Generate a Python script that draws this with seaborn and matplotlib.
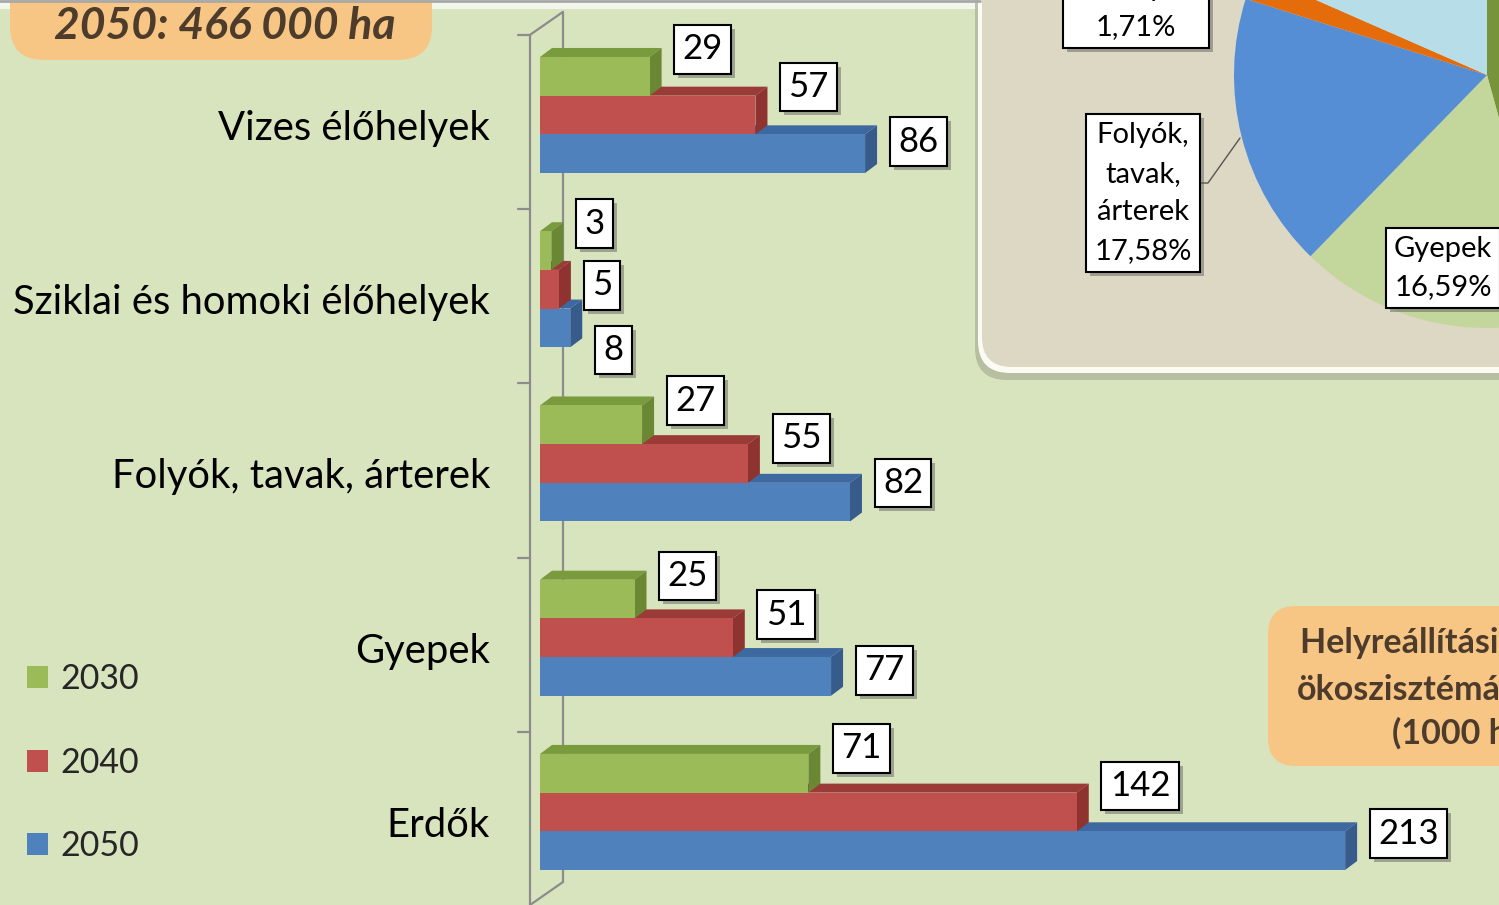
import numpy as np
import pandas as pd
import matplotlib
matplotlib.use("Agg")
import matplotlib.pyplot as plt
import seaborn as sns
from matplotlib.patches import Polygon, FancyBboxPatch, Rectangle
from matplotlib.transforms import IdentityTransform, ScaledTranslation

# data (1000 ha)
categories = ["Vizes élőhelyek", "Sziklai és homoki élőhelyek",
              "Folyók, tavak, árterek", "Gyepek", "Erdők"]
years = ["2030", "2040", "2050"]
v2030 = [29, 3, 27, 25, 71]
v2040 = [57, 5, 55, 51, 142]
v2050 = [86, 8, 82, 77, 213]

# pie (share of 2050 total)
pie_names = ["Erdők", "Gyepek", "Folyók, tavak, árterek",
             "Sziklai és homoki élőhelyek", "Vizes élőhelyek"]
pie_shares = [45.70, 16.59, 17.58, 1.71, 18.42]

title_text = "2050: 466 000 ha"
box_lines = ["Helyreállítási célú", "ökoszisztémák", "(1000 ha)"]

# colours
BG = "#D8E4BE"
ORANGE = "#F7C685"
BROWN = "#4D3B2C"
front = {"2030": "#9BBB59", "2040": "#C0504D", "2050": "#4F81BD"}
topc = {"2030": "#7A9A3E", "2040": "#9B3B38", "2050": "#3E68A0"}
sidec = {"2030": "#6A8834", "2040": "#8E3330", "2050": "#375C8C"}
pie_colors = ["#77933C", "#C3D69B", "#558ED5", "#E46C0A", "#B7DEE8"]

sns.set_theme(style="white")
plt.rcParams["font.family"] = ["Lato", "DejaVu Sans"]

W, H = 1499, 905
fig = plt.figure(figsize=(W / 100, H / 100), dpi=100, facecolor=BG)

# background layer in pixel coords (y down)
bg = fig.add_axes([0, 0, 1, 1], zorder=0)
bg.set_xlim(0, W)
bg.set_ylim(H, 0)
bg.axis("off")

# top edge of the green panel
bg.add_patch(Rectangle((0, 0), 980, 9, color="#F3F6EC", lw=0))
bg.plot([0, 980], [1, 1], color="#A8A8A8", lw=2)

# pie panel with shadow
bg.add_patch(FancyBboxPatch((975, -60), 700, 440, boxstyle="round,pad=0,rounding_size=32",
                            fc="#AEB69A", ec="none", alpha=0.8))
bg.add_patch(FancyBboxPatch((978, -60), 700, 433, boxstyle="round,pad=0,rounding_size=32",
                            fc="#FBFBF4", ec="none"))
bg.add_patch(FancyBboxPatch((982, -60), 700, 427, boxstyle="round,pad=0,rounding_size=30",
                            fc="#DDD8C3", ec="none"))

# title box
bg.add_patch(FancyBboxPatch((10, -60), 422, 120, boxstyle="round,pad=0,rounding_size=34",
                            fc=ORANGE, ec="none"))
bg.text(225, 39, title_text, ha="center", va="baseline", fontsize=32,
        fontweight="bold", fontstyle="italic", color=BROWN)

# bottom right box
bg.add_patch(FancyBboxPatch((1268, 606), 400, 160, boxstyle="round,pad=0,rounding_size=28",
                            fc=ORANGE, ec="none"))
for txt, x, y in zip(box_lines, [1300, 1297, 1392], [653, 700, 744]):
    bg.text(x, y, txt, ha="left", va="baseline", fontsize=24.5,
            fontweight="bold", color=BROWN)

# ---- bar chart ----
px_per_unit = 3.78
left_px = 540
ax = fig.add_axes([left_px / W, 0, (W - left_px) / W, 1], zorder=2)
ax.patch.set_alpha(0)

rows = []
for yr, vals in zip(years, [v2030, v2040, v2050]):
    for c, v in zip(categories, vals):
        rows.append({"category": c, "year": yr, "value": v})
df = pd.DataFrame(rows)

sns.barplot(data=df, x="value", y="category", hue="year", hue_order=years,
            order=categories, palette=front, orient="h", width=0.666,
            saturation=1, linewidth=0, ax=ax)
handles, labels = ax.get_legend_handles_labels()
ax.get_legend().remove()

ax.set_xlim(0, (W - left_px) / px_per_unit)
ax.set_ylim(4.534, -0.66)
ax.set_xticks([])
ax.set_xlabel("")
ax.set_ylabel("")
for s in ax.spines.values():
    s.set_visible(False)
ax.tick_params(axis="y", length=0, pad=36, labelsize=28.8, labelcolor="black")
for lab in ax.get_yticklabels():
    lab.set_transform(lab.get_transform() + ScaledTranslation(0, -10 / 100, fig.dpi_scale_trans))


def to_px(x, y):
    dx_, dy_ = ax.transData.transform((x, y))
    return dx_, H - dy_


# back wall / axis lines
ax_front = left_px - 10
ax_back = left_px + 23
bounds = [to_px(0, k - 0.5)[1] + 7 for k in range(len(categories))]
lc = "#8C8C8C"
bg.plot([ax_front, ax_front], [bounds[0], H], color=lc, lw=1.6)
bg.plot([ax_back, ax_back], [bounds[0] - 23, H - 23], color=lc, lw=1.6)
bg.plot([ax_front, ax_back], [bounds[0], bounds[0] - 23], color=lc, lw=1.6)
bg.plot([ax_front, ax_back], [H, H - 23], color=lc, lw=1.6)
for b in bounds:
    bg.plot([ax_front - 12, ax_front], [b, b], color=lc, lw=1.6)

# 3d faces
depth_x, depth_y = 12, 9
label_dy = [[27, 28, 12], [27, 4, -22], [24, 25, 19], [23, 23, 6], [25, 26, 17]]
for i, (yr, cont) in enumerate(zip(years, ax.containers)):
    z = 3 - i
    for j, bar in enumerate(cont):
        bar.set_zorder(z + 0.5)
        bb = bar.get_bbox()
        (x0, ya), (x1, yb) = ax.transData.transform([(bb.x0, bb.y0), (bb.x1, bb.y1)])
        ylo, yhi = min(ya, yb), max(ya, yb)
        top_face = [(x0, yhi), (x1, yhi), (x1 + depth_x, yhi + depth_y), (x0 + depth_x, yhi + depth_y)]
        side_face = [(x1, ylo), (x1, yhi), (x1 + depth_x, yhi + depth_y), (x1 + depth_x, ylo + depth_y)]
        for verts, col in [(top_face, topc[yr]), (side_face, sidec[yr])]:
            p = Polygon(verts, closed=True, fc=col, ec="none",
                        transform=IdentityTransform(), zorder=z + 0.4)
            p.set_clip_on(False)
            ax.add_patch(p)
        # value label with shadow
        val = bb.x1
        yc = bar.get_y() + bar.get_height() / 2
        off = (24 + 9, label_dy[j][i])
        ax.annotate(f"{val:.0f}", xy=(val, yc), xytext=(off[0] + 4, off[1] - 4),
                    textcoords="offset pixels", ha="left", va="center", fontsize=25,
                    color="none", annotation_clip=False, zorder=8,
                    bbox=dict(boxstyle="square,pad=0.24", fc="#555555", ec="none", alpha=0.45))
        ax.annotate(f"{val:.0f}", xy=(val, yc), xytext=off,
                    textcoords="offset pixels", ha="left", va="center", fontsize=25,
                    color="black", annotation_clip=False, zorder=9,
                    bbox=dict(boxstyle="square,pad=0.24", fc="white", ec="black", lw=1.5))

# legend
fig.legend(handles, labels, loc="upper left", bbox_to_anchor=(27 / W, 1 - 663 / H),
           frameon=False, fontsize=24.5, handlelength=0.62, handleheight=0.62,
           handletextpad=0.35, labelspacing=1.52, borderpad=0, borderaxespad=0)

# ---- pie ----
pcx, pcy, pr = 1487, 75, 253
pax = fig.add_axes([(pcx - pr) / W, (H - pcy - pr) / H, 2 * pr / W, 2 * pr / H], zorder=1)
pax.pie(pie_shares, colors=pie_colors, startangle=90, counterclock=False,
        wedgeprops=dict(linewidth=0))
pax.set_xlim(-1, 1)
pax.set_ylim(-1, 1)

over = fig.add_axes([0, 0, 1, 1], zorder=5)
over.set_xlim(0, W)
over.set_ylim(H, 0)
over.axis("off")


def boxed(x, y, s, ha="center", va="center"):
    kw = dict(ha=ha, va=va, fontsize=21, linespacing=1.6, multialignment="center")
    over.text(x + 4, y + 4, s, color="none",
              bbox=dict(boxstyle="square,pad=0.28", fc="#555555", ec="none", alpha=0.45), **kw)
    over.text(x, y, s, color="black",
              bbox=dict(boxstyle="square,pad=0.28", fc="white", ec="black", lw=1.5), **kw)


def pie_label(i):
    name = pie_names[i]
    pct = f"{pie_shares[i]:.2f}".replace(".", ",") + "%"
    return name, pct


name, pct = pie_label(2)
boxed(1143, 193, name.replace(" ", "\n") + "\n" + pct)
over.plot([1197, 1208, 1240], [183, 183, 138], color="#555555", lw=1)
name, pct = pie_label(1)
boxed(1394, 268, name + "\n" + pct, ha="left")
name, pct = pie_label(3)
boxed(1136, 40, "Sziklai és\nhomoki\nélőhelyek,\n" + pct, va="bottom")

fig.savefig("out.png", dpi=100, facecolor=BG)
